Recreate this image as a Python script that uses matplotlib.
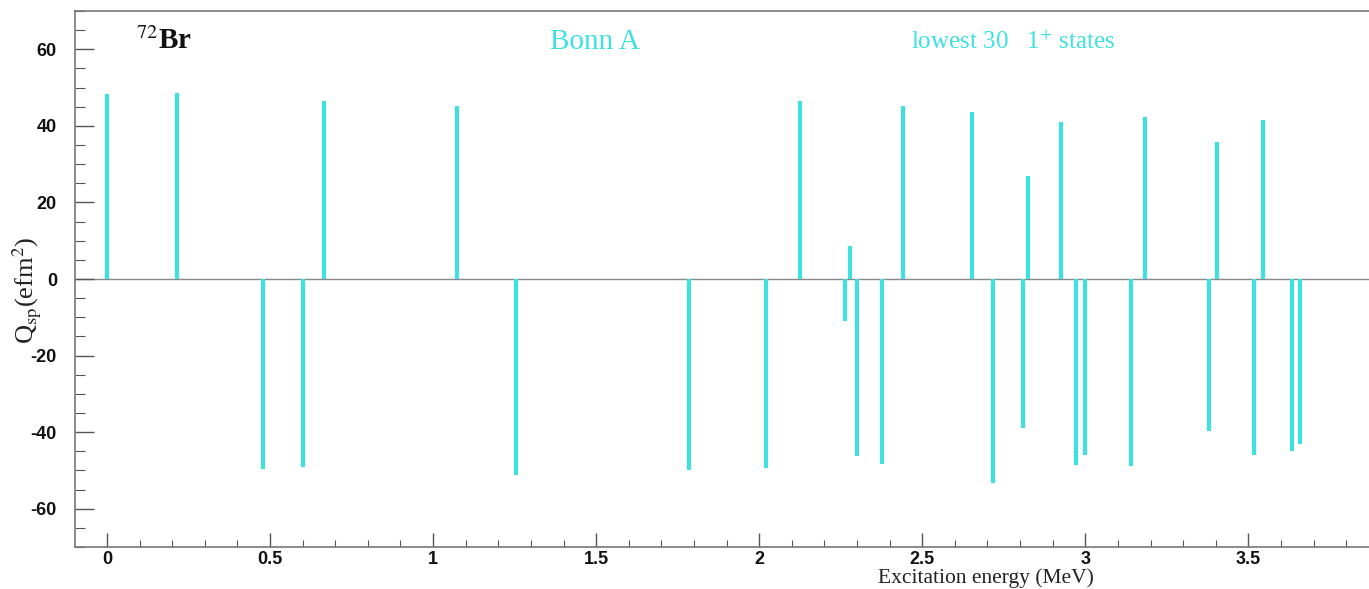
import matplotlib
matplotlib.use("Agg")
import matplotlib.pyplot as plt
from matplotlib.ticker import MultipleLocator

plt.rcParams["mathtext.fontset"] = "stix"

# Excitation energies (MeV) of the lowest 30 1+ states and their spectroscopic quadrupole moments
energy = [0.000, 0.216, 0.479, 0.600, 0.666, 1.072, 1.254, 1.786, 2.022, 2.124,
          2.262, 2.278, 2.300, 2.376, 2.442, 2.652, 2.718, 2.810, 2.824, 2.927,
          2.973, 3.000, 3.139, 3.182, 3.378, 3.405, 3.517, 3.546, 3.635, 3.659]
q_sp = [48.3, 48.6, -49.6, -49.0, 46.5, 45.2, -51.2, -49.8, -49.3, 46.5,
        -11.1, 8.7, -46.2, -48.3, 45.2, 43.7, -53.3, -38.8, 26.8, 41.1,
        -48.6, -46.1, -48.9, 42.2, -39.6, 35.7, -45.9, 41.6, -44.8, -43.1]

x_ticks = [0, 0.5, 1, 1.5, 2, 2.5, 3, 3.5]
x_tick_labels = ["0", "0.5", "1", "1.5", "2", "2.5", "3", "3.5"]
y_ticks = [-60, -40, -20, 0, 20, 40, 60]
y_tick_labels = ["-60", "-40", "-20", "0", "20", "40", "60"]

bar_color = "#3fe0e0"
axis_color = "#555555"
serif = ["Liberation Serif", "DejaVu Serif"]

fig = plt.figure(figsize=(13.69, 5.89), dpi=100)
ax = fig.add_axes([75 / 1369, 1 - 547 / 589, 1 - 75 / 1369, (547 - 11) / 589])

ax.vlines(energy, 0, q_sp, colors=bar_color, linewidth=3.0)
ax.axhline(0, color="#888888", linewidth=1.0, zorder=0)

ax.set_xlim(-0.098, 3.87)
ax.set_ylim(-70, 70)

ax.set_xticks(x_ticks)
ax.set_xticklabels(x_tick_labels)
ax.set_yticks(y_ticks)
ax.set_yticklabels(y_tick_labels)
ax.xaxis.set_minor_locator(MultipleLocator(0.1))
ax.yaxis.set_minor_locator(MultipleLocator(5))

ax.tick_params(axis="both", which="major", direction="in", colors=axis_color,
               labelcolor="#111111", width=1.0)
ax.tick_params(axis="x", which="major", length=10, pad=3)
ax.tick_params(axis="y", which="major", length=14, pad=13)
ax.tick_params(axis="x", which="minor", direction="in", length=5, colors=axis_color, width=0.8)
ax.tick_params(axis="y", which="minor", direction="in", length=7, colors=axis_color, width=0.8)
ax.tick_params(top=False, right=False, which="both")

for lbl in ax.get_xticklabels() + ax.get_yticklabels():
    lbl.set_family(["Liberation Sans", "DejaVu Sans"])
    lbl.set_fontweight("bold")
    lbl.set_fontsize(13)

for side in ("left", "bottom", "top"):
    ax.spines[side].set_color("#777777")
    ax.spines[side].set_linewidth(1.2)
ax.spines["right"].set_visible(False)

# Annotations
ax.text(0.09, 62.0, r"$^{72}$Br", family=serif, fontweight="bold", fontsize=21,
        color="#111111", ha="left", va="center")
ax.text(1.36, 62.0, "Bonn A", family=serif, fontsize=21, color=bar_color,
        ha="left", va="center")
ax.text(2.465, 61.8, r"lowest 30   1$^{+}$ states", family=serif, fontsize=18,
        color=bar_color, ha="left", va="center")

fig.text(986 / 1369, 1 - 568 / 589, "Excitation energy (MeV)", family=serif,
         fontsize=15.5, color="#222222", ha="center", va="top")
fig.text(27 / 1369, 1 - 290 / 589, r"Q$_{\mathrm{sp}}$(efm$^{2}$)", family=serif,
         fontsize=19, color="#222222", ha="center", va="center", rotation=90)

fig.savefig("out.png", dpi=100, facecolor="white")
